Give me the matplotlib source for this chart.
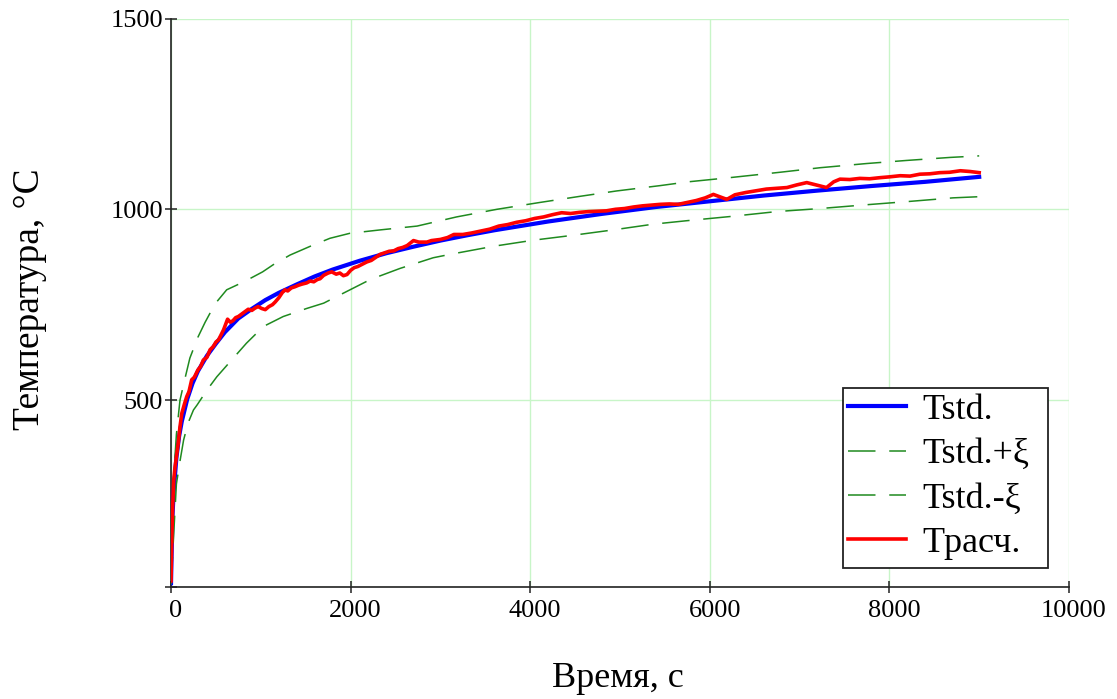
import matplotlib
matplotlib.use("Agg")
import matplotlib.pyplot as plt
import matplotlib.transforms as mtransforms
from matplotlib.patches import Rectangle

plt.rcParams['font.family'] = ['Liberation Serif', 'DejaVu Serif']

# стандартная кривая
t_std = [0, 15, 30, 60, 90, 120, 180, 240, 300, 400, 500, 600, 750, 900, 1050,
         1200, 1400, 1600, 1800, 2100, 2400, 2700, 3000, 3300, 3600, 4200, 4800,
         5400, 6000, 6600, 7200, 7800, 8400, 9000]
T_std = [20, 190, 261, 349, 405, 444, 502, 544, 576, 616, 648, 678, 714, 739, 762,
         781, 803, 824, 842, 865, 885, 902, 918, 932, 945, 968, 988,
         1006, 1021, 1036, 1049, 1061, 1072, 1085]

# верхняя граница допуска
t_up = [0, 30, 60, 100, 160, 210, 300, 380, 490, 620, 820, 1020, 1140, 1325, 1550,
        1770, 1990, 2330, 2740, 3180, 3630, 4110, 4555, 4960, 5445, 5760, 6225,
        6780, 7230, 7750, 8190, 8680, 9000]
T_up = [23, 300, 410, 500, 561, 610, 665, 704, 752, 789, 811, 836, 855, 880, 903,
        924, 937, 946, 956, 980, 1000, 1018, 1034, 1048, 1062, 1072, 1083,
        1097, 1109, 1120, 1128, 1136, 1140]

# нижняя граница допуска
t_lo = [0, 60, 100, 140, 190, 250, 290, 400, 510, 660, 840, 1030, 1250, 1510, 1700,
        1960, 2220, 2550, 2920, 3110, 3590, 4035, 4480, 4925, 5370, 5740, 6225,
        6745, 7230, 7750, 8190, 8710, 9000]
T_lo = [17, 280, 340, 395, 440, 474, 487, 526, 561, 601, 649, 693, 719, 740, 754,
        785, 816, 845, 873, 882, 903, 919, 932, 946, 961, 970, 981,
        994, 1002, 1012, 1020, 1030, 1033]

# расчётная кривая
t_calc = [0, 10, 20, 30, 45, 60, 80, 100, 120, 150, 175, 200, 230, 260, 300, 330,
          360, 400, 435, 470, 500, 530, 560, 585, 610, 630, 660, 690, 720, 750,
          790, 825, 860, 900, 935, 970, 1010, 1050, 1090, 1130, 1160, 1200, 1240,
          1270, 1300, 1340, 1380, 1420, 1460, 1510, 1550, 1590, 1630, 1660, 1700,
          1750, 1790, 1840, 1880, 1920, 1960, 2000, 2040, 2080, 2130, 2180, 2230,
          2280, 2330, 2380, 2430, 2480, 2530, 2580, 2630, 2700, 2760, 2850, 2900,
          3000, 3080, 3150, 3250, 3350, 3450, 3550, 3650, 3750, 3850, 3950, 4050,
          4150, 4250, 4350, 4450, 4550, 4650, 4750, 4850, 4950, 5050, 5150, 5250,
          5350, 5450, 5550, 5650, 5750, 5850, 5950, 6040, 6120, 6190, 6280, 6400,
          6500, 6630, 6750, 6860, 6970, 7080, 7180, 7300, 7380, 7450, 7560, 7670,
          7780, 7900, 8000, 8120, 8230, 8340, 8450, 8560, 8670, 8790, 8900, 9000]
T_calc = [26, 150, 230, 290, 325, 352, 386, 430, 465, 490, 509, 522, 553, 560, 579, 588,
          605, 612, 632, 640, 652, 658, 672, 684, 700, 712, 704, 708, 716, 719,
          726, 732, 738, 735, 741, 745, 740, 737, 745, 750, 757, 768, 782,
          789, 786, 794, 797, 801, 804, 807, 812, 810, 816, 818, 827,
          833, 836, 830, 833, 826, 829, 840, 847, 850, 856, 862, 866,
          874, 882, 886, 890, 891, 897, 900, 905, 918, 914, 914, 918,
          921, 926, 934, 934, 938, 943, 948, 956, 960, 966, 970, 976,
          980, 986, 991, 989, 992, 994, 995, 996, 1000, 1002, 1006, 1009,
          1011, 1013, 1014, 1013, 1018, 1023, 1030, 1039, 1032, 1026, 1038, 1044,
          1048, 1053, 1055, 1057, 1064, 1070, 1064, 1057, 1072, 1079, 1078, 1081,
          1080, 1083, 1085, 1088, 1087, 1092, 1093, 1096, 1097, 1101, 1099, 1096]

xticks = [0, 2000, 4000, 6000, 8000, 10000]
yticks = [10, 500, 1000, 1500]
ytick_labels = ['', '500', '1000', '1500']

W, H = 1117, 699
fig = plt.figure(figsize=(W / 100, H / 100), dpi=100)
ax = fig.add_axes([0.1531, 0.1602, 0.8039, 0.8133])

green = '#1f8a1f'
ax.plot(t_std, T_std, color='#0000ff', lw=3.0, label='Tstd.', zorder=3)
ax.plot(t_up, T_up, color=green, lw=1.1, dashes=(18, 9), label='Tstd.+ξ', zorder=3)
ax.plot(t_lo, T_lo, color=green, lw=1.1, dashes=(18, 9), label='Tstd.-ξ', zorder=3)
ax.plot(t_calc, T_calc, color='#ff0000', lw=2.6, label='Tрасч.', zorder=4)

ax.set_xlim(0, 10000)
ax.set_ylim(10, 1500)
ax.set_xticks(xticks)
ax.set_yticks(yticks)
ax.set_yticklabels(ytick_labels)
ax.grid(True, color='#c8f5c8', lw=1.0)
ax.set_axisbelow(True)

for s in ['top', 'right']:
    ax.spines[s].set_visible(False)
for s in ['left', 'bottom']:
    ax.spines[s].set_color('#222222')
    ax.spines[s].set_linewidth(1.2)

ax.tick_params(axis='both', direction='inout', length=8.5, width=1.1,
               color='#222222', labelsize=19)
ax.tick_params(axis='x', pad=5)
ax.tick_params(axis='y', pad=1.5)

# подписи по оси x чуть смещены вправо, как в Mathcad
shift = mtransforms.ScaledTranslation(5 / 100, 0, fig.dpi_scale_trans)
for lbl in ax.get_xticklabels():
    lbl.set_transform(lbl.get_transform() + shift)

fig.text(618 / W, 1 - 687 / H, 'Время, с', fontsize=26, ha='center', va='baseline')
fig.text(30 / W, 1 - 299 / H, 'Температура, °C', fontsize=27, ha='center',
         va='center', rotation=90)

leg = ax.legend(loc='upper left', bbox_to_anchor=(843 / W, 1 - 388 / H),
                bbox_transform=fig.transFigure, fontsize=26,
                frameon=False, handlelength=1.6,
                handletextpad=0.45, labelspacing=0.31, borderpad=0.15,
                borderaxespad=0)
leg.set_zorder(6)

# рамка легенды (в оригинале шире справа)
box = Rectangle((843 / W, 1 - 568 / H), 205 / W, 180 / H, transform=fig.transFigure,
                facecolor='white', edgecolor='#222222', lw=1.3, zorder=5, clip_on=False)
ax.add_patch(box)

fig.savefig('out.png', dpi=100)
